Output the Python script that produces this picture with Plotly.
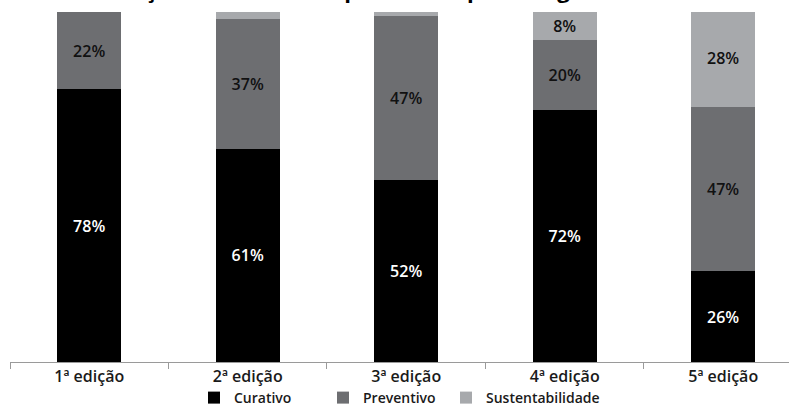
import plotly.graph_objects as go

categories = ["1ª edição", "2ª edição", "3ª edição", "4ª edição", "5ª edição"]
curativo = [78, 61, 52, 72, 26]
preventivo = [22, 37, 47, 20, 47]
sustentabilidade = [0, 2, 1, 8, 28]
series_names = ["Curativo", "Preventivo", "Sustentabilidade"]
title_text = "Evolução dos trabalhos premiados por categoria"

colors = ["#000000", "#6d6e71", "#a7a9ac"]
text_colors = ["#ffffff", "#111111", "#111111"]
legend_ids = ["legend", "legend2", "legend3"]
legend_x = [0.2362, 0.4018, 0.5597]
FONT = "Open Sans"

fig = go.Figure()
for name, vals, col, tcol, lid in zip(series_names, [curativo, preventivo, sustentabilidade],
                                      colors, text_colors, legend_ids):
    fig.add_trace(go.Bar(
        x=categories, y=vals, name=name, legend=lid,
        marker=dict(color=col, line=dict(width=0)),
        width=0.404,
        text=[f"{v}%" if v >= 5 else "" for v in vals],
        textposition="inside", insidetextanchor="middle", textangle=0,
        constraintext="none",
        textfont=dict(color=tcol, size=16, family=FONT, weight=600),
    ))

legend_font = dict(family=FONT, size=14, color="#1a1a1a", weight=600)
legends = {}
for lid, lx in zip(legend_ids, legend_x):
    legends[lid] = dict(orientation="h", x=lx, xanchor="left", y=-0.103, yanchor="middle",
                        font=legend_font, bgcolor="rgba(0,0,0,0)")

fig.update_layout(
    width=789, height=414,
    margin=dict(l=10, r=0, t=12, b=52),
    barmode="stack",
    plot_bgcolor="white", paper_bgcolor="white",
    showlegend=True,
    xaxis=dict(range=[-0.5, 4.415], tickson="boundaries", ticks="outside", ticklen=6,
               tickcolor="#9a9a9a", showline=True, linecolor="#9a9a9a", linewidth=1,
               tickfont=dict(family=FONT, size=16, color="#1a1a1a", weight=600),
               showgrid=False, fixedrange=True),
    yaxis=dict(range=[0, 100], visible=False, showgrid=False, fixedrange=True),
    annotations=[dict(text=f"<b>{title_text}</b>", xref="paper", yref="paper",
                      x=0.435, y=1.017, xanchor="center", yanchor="bottom", showarrow=False,
                      font=dict(family=FONT, size=22, color="#000000"))],
    **legends,
)

fig.write_html("out.html")
